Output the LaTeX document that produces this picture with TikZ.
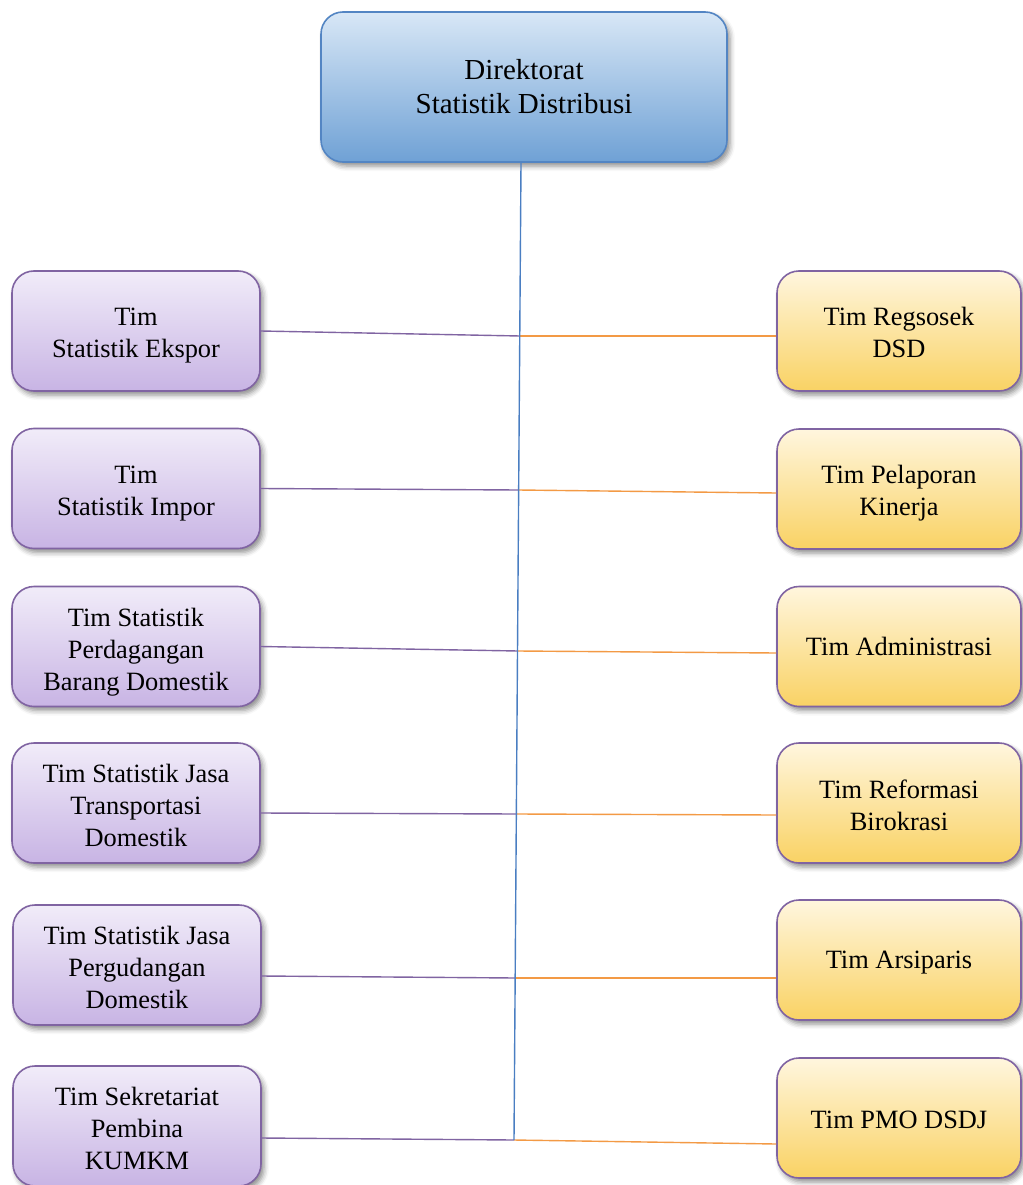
\documentclass[tikz,border=0pt]{standalone}
\usepackage{fontspec}
\setmainfont{Liberation Serif}
\usetikzlibrary{shadows.blur}
\definecolor{topA}{HTML}{D8E7F6}
\definecolor{topB}{HTML}{6FA1D5}
\definecolor{topE}{HTML}{5385C3}
\definecolor{purA}{HTML}{F1ECF9}
\definecolor{purB}{HTML}{C8B4E4}
\definecolor{purE}{HTML}{8064A2}
\definecolor{orgA}{HTML}{FFF6DE}
\definecolor{orgB}{HTML}{F9D264}
\definecolor{lineB}{HTML}{4A7EC2}
\definecolor{lineO}{HTML}{F39A45}
\tikzset{
  base/.style={rounded corners=22pt, line width=1.6pt,
    blur shadow={shadow xshift=3pt, shadow yshift=-4pt, shadow blur radius=5pt, shadow opacity=45},
    inner sep=0pt},
  headbox/.style={base, draw=topE, top color=topA, bottom color=topB,
    minimum width=406pt, minimum height=150pt, align=center, font=\fontsize{29}{34}\selectfont},
  leftbox/.style={base, draw=purE, top color=purA, bottom color=purB,
    minimum width=248pt, minimum height=120pt},
  rightbox/.style={base, draw=purE, top color=orgA, bottom color=orgB,
    minimum width=244pt, minimum height=120pt},
  lbl/.style={align=center, inner sep=0pt, font=\fontsize{26.4}{32}\selectfont},
  spine/.style={draw=lineB, line width=1.4pt},
  lconn/.style={draw=purE, line width=1.4pt},
  rconn/.style={draw=lineO, line width=1.4pt}
}
\begin{document}
\begin{tikzpicture}[x=1pt,y=-1pt]
\useasboundingbox (0,0) rectangle (1022,1185);
\node[headbox] (T) at (524,87) {Direktorat\\Statistik Distribusi};

\node[leftbox] (L1) at (136,331) {};
\node[leftbox] (L2) at (136,488.5) {};
\node[leftbox] (L3) at (136,646.5) {};
\node[leftbox] (L4) at (136,803) {};
\node[leftbox] (L5) at (137,965) {};
\node[leftbox] (L6) at (137,1126) {};

\node[lbl] (L1t) at ([yshift=-5pt]L1.center) {Tim\\Statistik Ekspor};
\node[lbl] (L2t) at ([yshift=-5pt]L2.center) {Tim\\Statistik Impor};
\node[lbl] (L3t) at ([yshift=-5.5pt]L3.center) {Tim Statistik\\Perdagangan\\Barang Domestik};
\node[lbl] (L4t) at ([yshift=-2pt]L4.center) {Tim Statistik Jasa\\Transportasi\\Domestik};
\node[lbl] (L5t) at ([yshift=-2pt]L5.center) {Tim Statistik Jasa\\Pergudangan\\Domestik};
\node[lbl] (L6t) at ([yshift=-2pt]L6.center) {Tim Sekretariat\\Pembina\\KUMKM};

\node[rightbox] (R1) at (899,331) {};
\node[rightbox] (R2) at (899,489) {};
\node[rightbox] (R3) at (899,646.5) {};
\node[rightbox] (R4) at (899,803) {};
\node[rightbox] (R5) at (899,960) {};
\node[rightbox] (R6) at (899,1118) {};

\node[lbl] (R1t) at ([yshift=-1pt]R1.center) {Tim Regsosek\\DSD};
\node[lbl] (R2t) at ([yshift=-4pt]R2.center) {Tim Pelaporan\\Kinerja};
\node[lbl] (R3t) at (R3.center) {Tim Administrasi};
\node[lbl] (R4t) at ([yshift=-2pt]R4.center) {Tim Reformasi\\Birokrasi};
\node[lbl] (R5t) at ([yshift=-3pt]R5.center) {Tim Arsiparis};
\node[lbl] (R6t) at ([yshift=-2pt]R6.center) {Tim PMO DSDJ};

\coordinate (J1) at (520,336);
\coordinate (J2) at (518.5,490);
\coordinate (J3) at (518,651);
\coordinate (J4) at (517,814);
\coordinate (J5) at (516,978);
\coordinate (J6) at (514,1140);

\draw[lconn] (L1.east) -- (J1);
\draw[lconn] (L2.east) -- (J2);
\draw[lconn] (L3.east) -- (J3);
\draw[lconn] ([yshift=-10pt]L4.east) -- (J4);
\draw[lconn] ([yshift=-11pt]L5.east) -- (J5);
\draw[lconn] ([yshift=-12pt]L6.east) -- (J6);

\draw[rconn] (J1) -- ([yshift=-5pt]R1.west);
\draw[rconn] (J2) -- ([yshift=-4pt]R2.west);
\draw[rconn] (J3) -- ([yshift=-6.5pt]R3.west);
\draw[rconn] (J4) -- ([yshift=-12pt]R4.west);
\draw[rconn] (J5) -- ([yshift=-18pt]R5.west);
\draw[rconn] (J6) -- ([yshift=-26pt]R6.west);

\draw[spine] ([xshift=-3pt]T.south) -- (J6);
\end{tikzpicture}
\end{document}
